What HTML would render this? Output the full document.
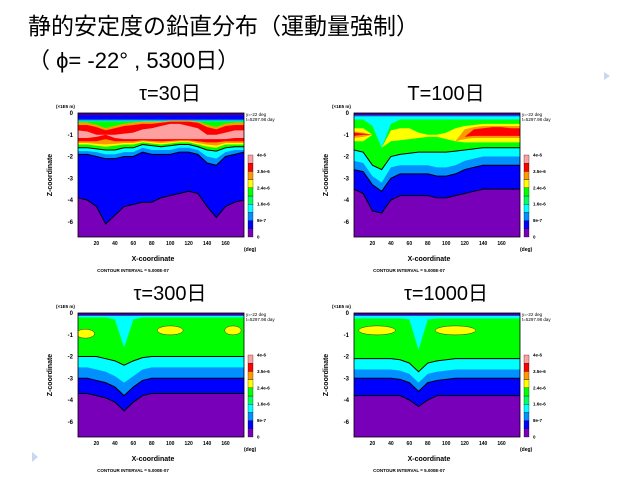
<!DOCTYPE html>
<html><head><meta charset="utf-8">
<style>
body{margin:0;background:#fff;width:640px;height:480px;overflow:hidden;font-family:"Liberation Sans","Noto Sans CJK JP",sans-serif;}
svg{position:absolute;left:0;top:0}
</style></head>
<body>
<svg id="s" width="640" height="480" xmlns="http://www.w3.org/2000/svg">
<text x="28" y="34" font-size="23" font-family="Liberation Sans, Noto Sans CJK JP, sans-serif">静的安定度の鉛直分布（運動量強制）</text>
<text x="28" y="68" font-size="22" font-family="Liberation Sans, Noto Sans CJK JP, sans-serif">（ ϕ= -22° , 5300日）</text>
<path d="M604 72 l6 4 l-6 4z" fill="#c8d8ee"/>
<path d="M32 452 l6 5 l-6 5z" fill="#c8d8ee"/>
</svg>
<script>
const XS=[0,10,20,30,40,50,60,70,80,90,100,110,120,130,140,150,160,170,180];
const COLORS=["#0000ff","#0090ff","#00ffff","#00ff00","#ffff00","#ff9900","#ff0000","#ffa0a0"];
const BAR_COLORS=["#7800b8","#0000ff","#0090ff","#00ffff","#00ff60","#00ff00","#ffff00","#ff9900","#ff0000","#ffa0a0"];
const BAR_LABELS=["0","8e-7","1.6e-6","2.4e-6","3.5e-6","4e-6"];
const Y_TICKS=[0,-1,-2,-3,-4,-5];
const Y_TICK_LABELS=["0","-1","-2","-3","-4","-6"];
const X_TICKS=[20,40,60,80,100,120,140,160];
const TITLES=["τ=30日","T=100日","τ=300日","τ=1000日"];

// panel 1 (tau=30)
const P1_BLUE=[-3.9,-4.0,-4.3,-5.1,-4.7,-4.3,-4.2,-4.1,-4.1,-3.9,-3.8,-3.7,-3.6,-3.7,-4.3,-4.8,-4.3,-4.1,-4.0];
const P1_LBLUE=[-1.9,-1.9,-2.0,-2.1,-2.1,-2.0,-2.0,-1.8,-1.9,-1.9,-1.9,-1.8,-1.8,-1.9,-2.3,-2.4,-2.0,-1.9,-1.8];
const P1_CYAN=[-1.75,-1.75,-1.8,-1.9,-1.9,-1.8,-1.8,-1.6,-1.7,-1.7,-1.7,-1.6,-1.6,-1.7,-2.0,-2.1,-1.8,-1.7,-1.7];
const P1_GREEN=[-1.6,-1.6,-1.65,-1.7,-1.7,-1.6,-1.6,-1.45,-1.5,-1.55,-1.5,-1.45,-1.45,-1.55,-1.7,-1.75,-1.6,-1.55,-1.55];
const P1_YELLOW=[-1.45,-1.45,-1.5,-1.55,-1.5,-1.45,-1.45,-1.35,-1.4,-1.45,-1.4,-1.35,-1.35,-1.45,-1.55,-1.6,-1.45,-1.45,-1.45];
const P1_ORANGE=[-1.38,-1.38,-1.42,-1.45,-1.42,-1.38,-1.38,-1.3,-1.34,-1.38,-1.34,-1.3,-1.3,-1.38,-1.45,-1.5,-1.38,-1.38,-1.38];
const P1_RED=[-1.3,-1.3,-1.3,-1.2,-1.3,-1.3,-1.3,-1.25,-1.28,-1.3,-1.28,-1.25,-1.25,-1.3,-1.35,-1.35,-1.3,-1.3,-1.3];
const P1_WARM_TOP=[-0.45,-0.45,-0.55,-0.7,-0.6,-0.5,-0.45,-0.4,-0.4,-0.4,-0.35,-0.35,-0.35,-0.4,-0.55,-0.65,-0.5,-0.45,-0.45];
const P1_RED_TOP=[-0.55,-0.55,-0.65,-0.8,-0.7,-0.6,-0.55,-0.5,-0.5,-0.45,-0.4,-0.4,-0.4,-0.45,-0.65,-0.75,-0.6,-0.55,-0.55];
const P1_PINK=[-1.15,-1.15,-1.1,-1.0,-1.15,-1.2,-1.2,-1.2,-1.2,-1.2,-1.2,-1.2,-1.2,-1.2,-1.2,-1.2,-1.2,-1.15,-1.15];
const P1_PINK_TOP=[-0.8,-0.85,-1.0,-1.0,-1.0,-0.95,-0.9,-0.75,-0.7,-0.6,-0.5,-0.5,-0.6,-0.7,-1.0,-1.0,-0.9,-0.8,-0.8];
// panel 2 (T=100)
const P2_BLUE=[-3.5,-3.7,-4.5,-4.6,-4.0,-3.8,-3.8,-3.8,-3.8,-3.9,-3.9,-3.8,-3.7,-3.6,-3.5,-3.5,-3.5,-3.5,-3.5];
const P2_LBLUE=[-2.6,-2.7,-3.3,-3.6,-3.0,-2.8,-2.8,-2.8,-2.8,-2.9,-2.9,-2.8,-2.6,-2.5,-2.4,-2.4,-2.4,-2.4,-2.4];
const P2_CYAN=[-2.2,-2.3,-2.9,-3.2,-2.5,-2.4,-2.4,-2.4,-2.4,-2.5,-2.5,-2.4,-2.2,-2.1,-2.0,-2.0,-2.0,-2.0,-2.0];
const P2_GREEN=[-1.7,-1.8,-2.4,-2.6,-2.0,-1.9,-1.85,-1.8,-1.8,-1.8,-1.8,-1.75,-1.7,-1.65,-1.6,-1.6,-1.6,-1.6,-1.6];
const P2_GREEN_TOP=[-0.3,-0.3,-0.6,-1.6,-0.5,-0.3,-0.3,-0.3,-0.3,-0.3,-0.3,-0.3,-0.3,-0.3,-0.3,-0.3,-0.3,-0.3,-0.3];
const P2_YELLOW=[-1.3,-1.3,-1.0,-1.6,-1.3,-1.25,-1.2,-1.15,-1.1,-1.1,-1.2,-1.3,-1.35,-1.35,-1.35,-1.35,-1.35,-1.35,-1.35];
const P2_YELLOW_TOP=[-0.7,-0.7,-1.0,-1.6,-0.8,-0.7,-0.7,-0.9,-1.0,-1.0,-0.9,-0.7,-0.6,-0.55,-0.5,-0.5,-0.5,-0.5,-0.5];
const P2_ORANGE=[-1.15,-1.1,-1.0,-1.6,-1.3,-1.2,-1.15,-1.1,-1.1,-1.1,-1.2,-1.3,-1.2,-1.15,-1.15,-1.15,-1.15,-1.15,-1.15];
const P2_ORANGE_TOP=[-0.85,-0.9,-1.0,-1.6,-1.3,-1.2,-1.15,-1.1,-1.1,-1.1,-1.2,-1.3,-0.75,-0.65,-0.6,-0.6,-0.6,-0.6,-0.6];
const P2_RED=[-1.05,-1.0,-1.0,-1.6,-1.3,-1.2,-1.15,-1.1,-1.1,-1.1,-1.2,-1.3,-1.1,-1.05,-1.05,-1.05,-1.05,-1.05,-1.05];
const P2_RED_TOP=[-0.9,-0.95,-1.0,-1.6,-1.3,-1.2,-1.15,-1.1,-1.1,-1.1,-1.2,-1.3,-1.1,-0.75,-0.7,-0.65,-0.65,-0.7,-0.7];
// panel 3 (tau=300)
const P3_BLUE=[-3.7,-3.7,-3.8,-3.9,-4.1,-4.5,-4.1,-3.8,-3.7,-3.7,-3.7,-3.7,-3.7,-3.7,-3.7,-3.7,-3.7,-3.7,-3.7];
const P3_LBLUE=[-3.0,-3.0,-3.1,-3.2,-3.4,-3.8,-3.4,-3.1,-3.0,-3.0,-3.0,-3.0,-3.0,-3.0,-3.0,-3.0,-3.0,-3.0,-3.0];
const P3_CYAN=[-2.5,-2.5,-2.6,-2.7,-2.9,-3.2,-2.9,-2.6,-2.5,-2.5,-2.5,-2.5,-2.5,-2.5,-2.5,-2.5,-2.5,-2.5,-2.5];
const P3_GREEN=[-2.0,-2.0,-2.0,-2.1,-2.2,-2.4,-2.2,-2.05,-2.0,-2.0,-2.0,-2.0,-2.0,-2.0,-2.0,-2.0,-2.0,-2.0,-2.0];
const P3_GREEN_TOP=[-0.2,-0.2,-0.2,-0.2,-0.3,-1.6,-0.3,-0.2,-0.2,-0.2,-0.2,-0.2,-0.2,-0.2,-0.2,-0.2,-0.2,-0.2,-0.2];
const P3_PATCH_X=[8,100,168];
const P3_PATCH_Z=[-0.95,-0.8,-0.8];
const P3_PATCH_W=[10,14,9];
// panel 4 (tau=1000)
const P4_BLUE=[-3.8,-3.8,-3.8,-3.8,-3.8,-3.8,-4.0,-4.3,-4.0,-3.8,-3.8,-3.8,-3.8,-3.8,-3.8,-3.8,-3.8,-3.8,-3.8];
const P4_LBLUE=[-3.0,-3.0,-3.0,-3.0,-3.0,-3.05,-3.2,-3.6,-3.2,-3.1,-3.05,-3.0,-3.0,-3.0,-3.0,-3.0,-3.0,-3.0,-3.0];
const P4_CYAN=[-2.6,-2.6,-2.6,-2.6,-2.6,-2.65,-2.8,-3.2,-2.8,-2.7,-2.65,-2.6,-2.6,-2.6,-2.6,-2.6,-2.6,-2.6,-2.6];
const P4_GREEN=[-2.1,-2.1,-2.1,-2.1,-2.1,-2.15,-2.3,-2.7,-2.3,-2.2,-2.15,-2.1,-2.1,-2.1,-2.1,-2.1,-2.1,-2.1,-2.1];
const P4_GREEN_TOP=[-0.25,-0.25,-0.25,-0.25,-0.25,-0.25,-0.3,-1.7,-0.3,-0.25,-0.25,-0.25,-0.25,-0.25,-0.25,-0.25,-0.25,-0.25,-0.25];
const P4_PATCH_X=[25,110];
const P4_PATCH_Z=[-0.8,-0.8];
const P4_PATCH_W=[20,22];

const PANELS=[
 {x:78,y:113,levels:[[P1_BLUE,-0.08],[P1_LBLUE,-0.3],[P1_CYAN,-0.35],[P1_GREEN,-0.38],[P1_YELLOW,P1_WARM_TOP],[P1_ORANGE,P1_WARM_TOP],[P1_RED,P1_RED_TOP],[P1_PINK,P1_PINK_TOP]],lines:[P1_BLUE,P1_LBLUE,P1_GREEN],px:[],pz:[],pw:[]},
 {x:354,y:113,levels:[[P2_BLUE,-0.06],[P2_LBLUE,-0.1],[P2_CYAN,-0.16],[P2_GREEN,P2_GREEN_TOP],[P2_YELLOW,P2_YELLOW_TOP],[P2_ORANGE,P2_ORANGE_TOP],[P2_RED,P2_RED_TOP]],lines:[P2_BLUE,P2_LBLUE,P2_GREEN],px:[],pz:[],pw:[]},
 {x:78,y:313,levels:[[P3_BLUE,-0.06],[P3_LBLUE,-0.1],[P3_CYAN,-0.14],[P3_GREEN,P3_GREEN_TOP]],lines:[P3_BLUE,P3_LBLUE,P3_GREEN],px:P3_PATCH_X,pz:P3_PATCH_Z,pw:P3_PATCH_W},
 {x:354,y:313,levels:[[P4_BLUE,-0.06],[P4_LBLUE,-0.1],[P4_CYAN,-0.14],[P4_GREEN,P4_GREEN_TOP]],lines:[P4_BLUE,P4_LBLUE,P4_GREEN],px:P4_PATCH_X,pz:P4_PATCH_Z,pw:P4_PATCH_W}
];
const W=166,H=124,ZMIN=-5.7;
const NS="http://www.w3.org/2000/svg";
const svg=document.getElementById('s');
function mk(tag,attrs,parent){const e=document.createElementNS(NS,tag);for(const k in attrs)e.setAttribute(k,attrs[k]);(parent||svg).appendChild(e);return e;}
PANELS.forEach((p,pi)=>{
 const g=mk('g',{});
 
 
 const sx=d=>p.x+d/180*W, sz=z=>p.y+z/ZMIN*H;
 const cid='clip'+pi;
 const cp=mk('clipPath',{id:cid},g);mk('rect',{x:p.x,y:p.y,width:W,height:H},cp);
 const t=mk('text',{x:p.x+92,y:p.y-13,'font-size':20,'text-anchor':'middle'},g);t.textContent=TITLES[pi];
 
 
 const pg=mk('g',{'clip-path':'url(#'+cid+')'},g);
 const bg=mk('rect',{x:p.x,y:p.y,width:W,height:H,fill:BAR_COLORS[0]},pg);
 
 
 p.levels.forEach((lv,li)=>{
  const lo=lv[0],up=lv[1];
  let pts=XS.map((x,i)=>sx(x)+','+sz(lo[i]));
  const upv=XS.map((x,i)=>typeof up==='number'?up:up[i]);
  pts=pts.concat(XS.map((x,i)=>sx(x)+','+sz(upv[i])).reverse());
  const poly=mk('polygon',{points:pts.join(' '),fill:COLORS[li]},pg);
  
  
 });
 p.px.forEach((cx,i)=>{
  const e=mk('ellipse',{cx:sx(cx),cy:sz(p.pz[i]),rx:p.pw[i]/180*W,ry:4.5,fill:'#ffff00',stroke:'#333','stroke-width':0.5},pg);
  
  
 });
 p.lines.forEach(arr=>{
  const l=mk('polyline',{points:XS.map((x,i)=>sx(x)+','+sz(arr[i])).join(' '),fill:'none',stroke:'#000','stroke-width':1},pg);
  
  
 });
 mk('rect',{x:p.x,y:p.y,width:W,height:2.5,fill:'#4000a0'},pg);
 mk('rect',{x:p.x,y:p.y,width:W,height:H,fill:'none',stroke:'#000','stroke-width':0.8},g);
 Y_TICKS.forEach((v,i)=>{const tt=mk('text',{x:p.x-5,y:sz(v)+2,'font-size':6,'font-weight':'bold','text-anchor':'end'},g);tt.textContent=Y_TICK_LABELS[i];
  
  });
 X_TICKS.forEach(v=>{const tt=mk('text',{x:sx(v),y:p.y+H+8,'font-size':5,'font-weight':'bold','text-anchor':'middle'},g);tt.textContent=v;
  
  });
 const u=mk('text',{x:p.x-22,y:p.y-5,'font-size':4.5,'font-weight':'bold'},g);u.textContent='(×1E5 m)';
 const yt=mk('text',{x:p.x-26,y:p.y+62,'font-size':7,'font-weight':'bold','text-anchor':'middle',transform:'rotate(-90 '+(p.x-26)+' '+(p.y+62)+')'},g);yt.textContent='Z-coordinate';
 
 
 const xt=mk('text',{x:p.x+75,y:p.y+H+24,'font-size':7,'font-weight':'bold','text-anchor':'middle'},g);xt.textContent='X-coordinate';
 
 
 const dg=mk('text',{x:p.x+W,y:p.y+H+14,'font-size':5,'font-weight':'bold'},g);dg.textContent='(deg)';
 const ci=mk('text',{x:p.x+55,y:p.y+H+35,'font-size':4.5,'font-weight':'bold','text-anchor':'middle'},g);ci.textContent='CONTOUR INTERVAL = 5.000E-07';
 
 
 const i1=mk('text',{x:p.x+W+2,y:p.y+3,'font-size':4.5},g);i1.textContent='y=-22 deg';
 const i2=mk('text',{x:p.x+W+2,y:p.y+8,'font-size':4.5},g);i2.textContent='t=5297.98 day';
 const bx=p.x+W+4,by0=p.y+H,segH=82/BAR_COLORS.length;
 BAR_COLORS.forEach((c,i)=>{const r=mk('rect',{x:bx,y:by0-(i+1)*segH,width:5,height:segH,fill:c,stroke:'#000','stroke-width':0.3},g);
  
  });
 BAR_LABELS.forEach((s,i)=>{const tt=mk('text',{x:bx+9,y:by0-[0,2,4,6,8,10][i]*segH+1.5,'font-size':4.5,'font-weight':'bold'},g);tt.textContent=s;
  
  });
});
</script>
</body></html>
